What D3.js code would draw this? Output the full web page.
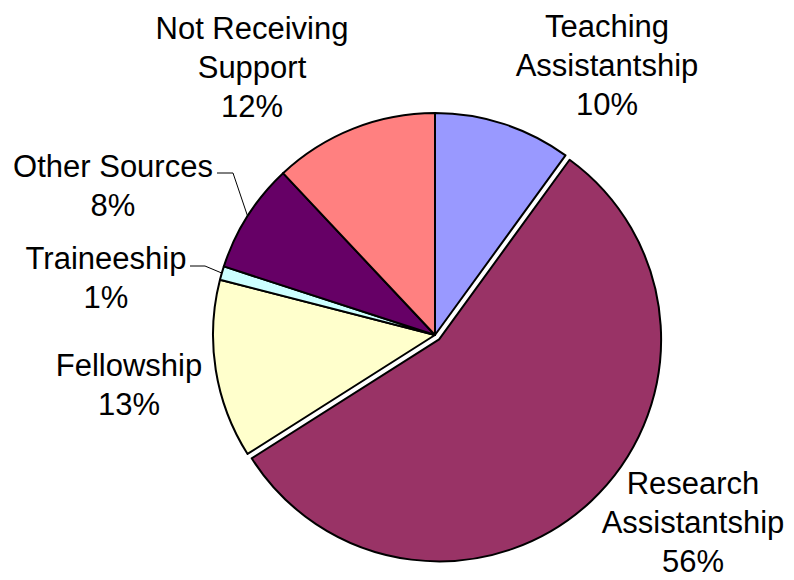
<!DOCTYPE html>
<html>
<head>
<meta charset="utf-8">
<script src="https://cdn.jsdelivr.net/npm/d3@7"></script>
<style>
  html, body { margin: 0; padding: 0; background: #fff; }
  svg text { font-family: "Liberation Sans", Arial, sans-serif; fill: #000; }
</style>
</head>
<body>
<svg id="chart" width="794" height="580"></svg>
<script>
// Graduate student support sources (percent of total)
const categories = [
  "Teaching Assistantship",
  "Research Assistantship",
  "Fellowship",
  "Traineeship",
  "Other Sources",
  "Not Receiving Support"
];
const values = [10, 56, 13, 1, 8, 12];
const labelLines = [
  ["Teaching", "Assistantship", "10%"],
  ["Research", "Assistantship", "56%"],
  ["Fellowship", "13%"],
  ["Traineeship", "1%"],
  ["Other Sources", "8%"],
  ["Not Receiving", "Support", "12%"]
];
const colors = ["#9999FF", "#993366", "#FFFFCC", "#CCFFFF", "#660066", "#FF8080"];
const exploded = [false, true, false, false, false, false];

// Layout
const cx = 435, cy = 335, radius = 222, explodeDist = 6;
const fontSize = 31, lineHeight = 39;
// label block anchor: centre x, first-line baseline y
const labelPos = [
  [607, 37],
  [693, 494],
  [129, 376],
  [106, 269],
  [113, 177],
  [252, 39]
];
// which labels get a leader line, and where the line leaves the text
const leaderStart = [null, null, null, [190, 266], [217, 173], null];
const leaderElbow = [null, null, null, [205, 266], [233, 173], null];

const svg = d3.select("#chart");

const pie = d3.pie().sort(null).value(d => d)(values);
const arc = d3.arc().innerRadius(0).outerRadius(radius);

const g = svg.append("g").attr("transform", `translate(${cx},${cy})`);

// draw normal slices first, exploded slice on top
const order = d3.range(pie.length).sort((a, b) => (exploded[a] ? 1 : 0) - (exploded[b] ? 1 : 0));

g.selectAll("path.slice")
  .data(order.map(i => Object.assign({ idx: i }, pie[i])))
  .join("path")
  .attr("class", "slice")
  .attr("d", arc)
  .attr("fill", d => colors[d.idx])
  .attr("stroke", "#000")
  .attr("stroke-width", 2)
  .attr("stroke-linejoin", "round")
  .attr("transform", d => {
    if (!exploded[d.idx]) return null;
    const mid = (d.startAngle + d.endAngle) / 2;
    return `translate(${explodeDist * Math.sin(mid)},${-explodeDist * Math.cos(mid)})`;
  });

// leader lines from label to slice edge
pie.forEach((d, i) => {
  if (!leaderStart[i]) return;
  const mid = (d.startAngle + d.endAngle) / 2;
  const ex = cx + radius * Math.sin(mid);
  const ey = cy - radius * Math.cos(mid);
  svg.append("polyline")
    .attr("points", [leaderStart[i], leaderElbow[i], [ex, ey]].map(p => p.join(",")).join(" "))
    .attr("fill", "none")
    .attr("stroke", "#000")
    .attr("stroke-width", 1);
});

// labels
labelLines.forEach((lines, i) => {
  const t = svg.append("text")
    .attr("text-anchor", "middle")
    .attr("font-size", fontSize);
  lines.forEach((ln, k) => {
    t.append("tspan")
      .attr("x", labelPos[i][0])
      .attr("y", labelPos[i][1] + k * lineHeight)
      .text(ln);
  });
});
</script>
</body>
</html>
